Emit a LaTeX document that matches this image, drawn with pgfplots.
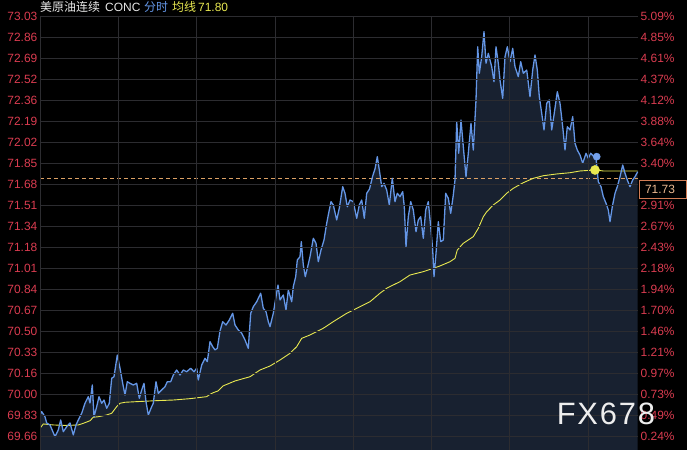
\documentclass[border=0pt]{standalone}
\usepackage{fontspec}
\setmainfont{Liberation Sans}
\newfontfamily\cjk{Noto Sans CJK SC}
\newfontfamily\wm[LetterSpace=6]{Liberation Sans}
\usepackage{pgfplots}
\pgfplotsset{compat=1.18}
\usepackage{pgfplotstable}
\definecolor{gridc}{RGB}{44,44,48}
\definecolor{areac}{RGB}{24,33,48}
\definecolor{pricec}{RGB}{100,150,230}
\definecolor{dotb}{RGB}{115,160,235}
\definecolor{avgc}{RGB}{232,232,80}
\definecolor{labc}{RGB}{218,60,80}
\definecolor{dashc}{RGB}{220,160,100}
\definecolor{boxc}{RGB}{210,125,85}
\definecolor{boxt}{RGB}{235,185,145}
\definecolor{titlec}{RGB}{230,230,230}

\pgfplotstableread{
x y
0 69.834
1.7 69.861
5 69.820
6.7 69.770
10 69.754
15 69.660
18.3 69.714
20.7 69.794
23.3 69.700
26.7 69.740
30 69.770
33.3 69.674
36 69.754
38.3 69.794
41.7 69.848
45 69.928
48.3 69.981
50 69.930
52.3 70.075
54 69.820
56.7 69.901
59 69.981
61.7 69.928
64 69.954
66.7 69.888
69.3 69.928
71.7 70.129
74 70.141
77.3 70.315
80 70.209
82.7 70.088
85 69.994
87.3 70.101
90 70.088
93.3 70.075
96.7 70.088
99.3 69.968
101.7 70.035
104 70.088
106 69.941
108.3 69.834
111.7 69.901
113.3 69.928
116 70.101
118.3 70.008
121.7 70.035
125 70.061
127.3 70.101
130.7 70.101
133.3 70.155
136.7 70.195
140 70.155
143.3 70.195
146.7 70.181
150.7 70.209
154 70.181
156.7 70.209
158.3 70.115
161.7 70.235
165 70.289
167.3 70.262
170 70.422
172.7 70.382
175 70.356
177.3 70.369
180 70.508
182.7 70.583
186 70.556
189.3 70.596
192.7 70.650
195 70.556
198.3 70.516
201.7 70.490
205 70.436
208.3 70.369
210.7 70.650
213.3 70.703
216.7 70.743
220.7 70.811
223.3 70.690
226 70.663
228.3 70.583
230 70.543
233.3 70.650
236 70.783
238 70.877
240 70.757
243.3 70.797
246 70.677
248.3 70.837
251.7 70.743
253.3 70.864
255.7 70.944
257.3 71.078
260 71.104
261.3 71.225
263.3 71.038
265.3 70.944
267.3 71.011
270 71.104
273.3 71.252
276 71.212
278.3 71.064
281 71.158
284 71.238
286.7 71.372
288.3 71.439
291 71.546
293.3 71.519
296.7 71.399
299.3 71.493
302.7 71.666
305 71.613
307.3 71.505
310 71.559
313.3 71.546
316.7 71.412
319.3 71.519
321.7 71.559
324.3 71.412
326.7 71.613
329.5 71.647
332.7 71.752
335 71.808
337.3 71.907
339.3 71.800
341.7 71.666
344 71.693
346.7 71.639
349.3 71.519
352.3 71.733
355 71.546
357.3 71.613
360 71.586
362.7 71.626
364.3 71.505
366 71.184
368.3 71.425
370.7 71.546
373.3 71.479
376 71.305
378.3 71.399
380.7 71.425
383.3 71.252
385.7 71.479
388.3 71.546
390.7 71.345
392.7 71.158
394 70.944
396 71.131
398.3 71.385
400.7 71.225
403.3 71.238
405.7 71.613
408.3 71.573
410.7 71.452
413.3 71.599
415 71.720
416.7 72.187
418.7 71.934
421 72.201
423.3 71.987
426 71.746
428.3 71.934
431 72.175
433.3 71.960
436 72.362
437.7 72.789
439.3 72.576
441.7 72.709
444 72.910
446 72.656
448.3 72.736
451.7 72.629
454 72.508
456 72.789
458.3 72.656
460 72.522
462.7 72.375
465 72.709
467.3 72.789
470 72.669
472.7 72.776
475 72.629
478.3 72.549
480.7 72.669
483.3 72.576
486.7 72.602
490 72.388
492.7 72.602
495 72.723
497.3 72.602
499.3 72.388
501.7 72.255
504 72.121
506.7 72.335
509.3 72.362
511.7 72.121
514 72.241
517.3 72.428
520 72.335
522.7 72.147
525 71.960
527.3 72.147
530 72.121
532.7 72.228
535 72.014
537.3 71.960
540 71.920
542.7 71.854
546 71.934
548.3 71.894
550.7 71.934
553.3 71.912
556 71.894
558.3 71.706
561 71.666
563.3 71.586
566 71.533
568.3 71.479
570 71.385
572.3 71.505
575 71.613
577.3 71.666
580 71.746
582.7 71.840
585 71.773
587.3 71.720
590 71.666
592.7 71.720
595 71.746
597.7 71.786
}\price

\pgfplotstableread{
x y
0 69.727
3.3 69.762
13.3 69.754
26.7 69.750
38.3 69.754
43.3 69.767
50 69.788
53.3 69.816
58.3 69.820
66.7 69.834
71.7 69.848
76.7 69.901
80 69.928
85 69.936
96.7 69.941
116.7 69.949
133.3 69.954
150 69.965
166.7 69.981
170 70.000
173.3 70.013
178 70.027
183 70.067
195 70.107
210 70.141
220 70.195
230 70.227
240 70.275
250 70.329
256.7 70.382
261.7 70.449
270 70.476
283.3 70.530
293.3 70.583
306.7 70.650
320 70.703
330 70.743
340 70.811
346.7 70.851
360 70.904
370 70.957
383.3 70.984
393.3 71.011
400 71.030
410 71.064
415 71.091
417.3 71.158
423.3 71.212
433.3 71.265
438.3 71.332
443.3 71.425
446.7 71.465
453.3 71.519
460 71.559
466.7 71.613
473.3 71.653
483.3 71.698
493.3 71.733
503.3 71.754
516.7 71.768
530 71.778
540 71.792
555 71.800
563.3 71.792
597.7 71.792
}\avg

\begin{document}
\begin{tikzpicture}
\fill[black] (0,0) rectangle (687bp,450bp);
\begin{axis}[
  at={(40bp,0bp)}, anchor=south west, scale only axis,
  width=598bp, height=433.3bp,
  xmin=0, xmax=598, ymin=69.553, ymax=73.03,
  axis line style={draw=none}, major tick length=0pt,
  xtick={0,78.3,156.6,234.9,313.2,391.5,469.8,548.1}, xticklabels={},
  ytick={69.66,69.8285,69.997,70.1655,70.334,70.5025,70.671,70.8395,71.008,71.1765,71.345,71.5135,71.682,71.8505,72.019,72.1875,72.356,72.5245,72.693,72.8615,73.03},
  yticklabels={69.66,69.83,70.00,70.16,70.33,70.50,70.67,70.84,71.01,71.18,71.34,71.51,71.68,71.85,72.02,72.19,72.36,72.52,72.69,72.86,73.03},
  yticklabel style={font=\fontsize{12}{12}\selectfont, text=labc, inner sep=2.5bp},
  /pgf/number format/assume math mode=true,
  grid=major, grid style={gridc, line width=0.8bp},
  axis on top,
]
\addplot[draw=none, fill=areac] table[x=x,y=y] {\price} \closedcycle;
\addplot[dashc, line width=0.8bp, dash pattern=on 4bp off 3bp] coordinates {(0,71.73) (598,71.73)};
\addplot[avgc, line width=0.9bp] table[x=x,y=y] {\avg};
\addplot[pricec, line width=1.3bp, line join=round] table[x=x,y=y] {\price};
\addplot[only marks, mark=*, mark size=3.6bp, dotb] coordinates {(556.7,71.907)};
\addplot[only marks, mark=*, mark size=4.6bp, avgc] coordinates {(555,71.80)};
\end{axis}
\begin{axis}[
  at={(40bp,0bp)}, anchor=south west, scale only axis,
  width=598bp, height=433.3bp,
  xmin=0, xmax=598, ymin=69.553, ymax=73.03,
  hide x axis, axis y line*=right, axis line style={draw=none}, major tick length=0pt,
  ytick={69.66,69.8285,69.997,70.1655,70.334,70.5025,70.671,70.8395,71.008,71.1765,71.345,71.5135,71.682,71.8505,72.019,72.1875,72.356,72.5245,72.693,72.8615,73.03},
  yticklabels={0.24\%,0.49\%,0.73\%,0.97\%,1.21\%,1.46\%,1.70\%,1.94\%,2.18\%,2.43\%,2.67\%,2.91\%,{},3.40\%,3.64\%,3.88\%,4.12\%,4.37\%,4.61\%,4.85\%,5.09\%},
  yticklabel style={font=\fontsize{12}{12}\selectfont, text=labc, inner sep=2.5bp},
  /pgf/number format/assume math mode=true,
]
\addplot[draw=none] coordinates {(0,70)};
\end{axis}
% current price box
\draw[boxc, fill=black, line width=0.9bp] (639bp,252bp) rectangle (686.5bp,270bp);
\node[text=boxt, font=\fontsize{12}{12}\selectfont] at (660bp,261bp) {71.73};
% title
\node[anchor=west, inner sep=0, text=titlec, font=\fontsize{12}{12}\selectfont\cjk] at (40bp,443bp) {美原油连续};
\node[anchor=west, inner sep=0, text=titlec, font=\fontsize{12}{12}\selectfont] at (105bp,443bp) {CONC};
\node[anchor=west, inner sep=0, text=pricec, font=\fontsize{12}{12}\selectfont\cjk] at (144bp,443bp) {分时};
\node[anchor=west, inner sep=0, text=avgc, font=\fontsize{12}{12}\selectfont\cjk] at (172bp,443bp) {均线};
\node[anchor=west, inner sep=0, text=avgc, font=\fontsize{12}{12}\selectfont] at (198bp,443bp) {71.80};
% watermark
\node[text={rgb,255:red,238;green,238;blue,238}, font=\wm\fontsize{31}{31}\selectfont, inner sep=0] at (606bp,36bp) {FX678};
\pgfresetboundingbox
\path[use as bounding box] (0,0) rectangle (687bp,450bp);
\end{tikzpicture}
\end{document}
